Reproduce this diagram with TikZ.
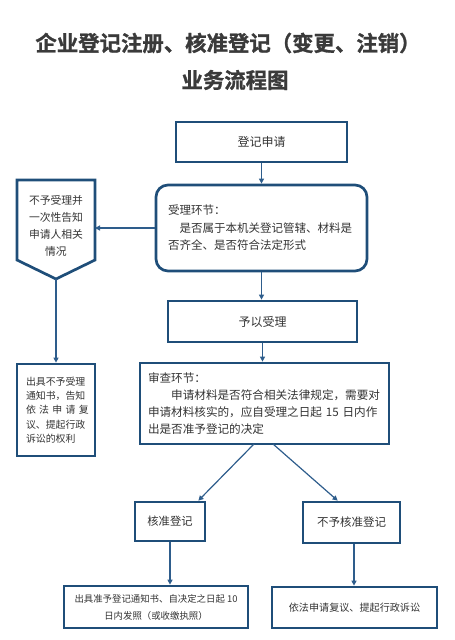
\documentclass[tikz,border=0pt]{standalone}
\usepackage{fontspec}
\setmainfont{Noto Sans CJK SC}[BoldFont={Noto Sans CJK SC Bold}]
\newfontfamily\ttlfont{Noto Sans CJK SC Bold}[FakeBold=1.2]
\usetikzlibrary{arrows.meta}
\definecolor{boxc}{HTML}{1F4E79}
\definecolor{arrc}{HTML}{2E5D8C}
\definecolor{txt}{HTML}{333333}
\definecolor{titlec}{HTML}{3A3A3A}
\newcommand{\fsz}[2]{\fontsize{#1}{#2}\selectfont}
\begin{document}
\begin{tikzpicture}[x=1pt,y=-1pt,
  box/.style={draw=boxc, line width=2.7pt, inner sep=0pt, text=txt, line join=miter},
  arr/.style={draw=arrc, line width=1.2pt, -{Triangle[length=5pt,width=5pt]}},
  ttl/.style={font=\ttlfont\fsz{21.4}{25}, text=titlec, inner sep=0pt}]
\useasboundingbox (0,0) rectangle (455,640);
% title
\node[ttl] (t1) at (228,43) {企业登记注册、核准登记（变更、注销）};
\node[ttl] (t2) at (235,80) {业务流程图};
% boxes
\node[box, minimum width=171pt, minimum height=40pt, font=\fsz{12}{14}] (apply) at (261.5,142) {登记申请};
\node[box, rounded corners=12pt, minimum width=211pt, minimum height=86pt, text width=187pt,
      inner xsep=12pt, align=left, font=\fsz{11.5}{17.5}] (accept) at (261.5,228)
  {受理环节：\\\hspace*{1em}是否属于本机关登记管辖、材料是\\否齐全、是否符合法定形式};
% pentagon
\draw[box] (17,180) -- (95,180) -- (95,260) -- (56,279) -- (17,260) -- cycle;
\coordinate (pentR) at (95,228);
\coordinate (pentB) at (56,279);
\node[text=txt, align=center, inner sep=0pt, font=\fsz{10.8}{17}] (pent) at (56,226)
  {不予受理并\\一次性告知\\申请人相关\\情况};
\node[box, minimum width=78pt, minimum height=92pt, text width=60pt, align=left,
      font=\fsz{9.9}{14.3}] (rej1) at (56,410)
  {出具不予受理\\通知书，告知\\\makebox[59.4pt][s]{依 法 申 请 复}\\议、提起行政\\诉讼的权利};
\node[box, minimum width=189pt, minimum height=41pt, font=\fsz{12}{14}] (ok) at (262.5,321.5) {予以受理};
\node[box, minimum width=249pt, minimum height=81pt, text width=233pt, inner xsep=8pt,
      align=left, font=\fsz{11.6}{17}] (check) at (264.5,403.5)
  {审查环节：\\\hspace*{2em}申请材料是否符合相关法律规定，需要对\\申请材料核实的，应自受理之日起 15 日内作\\出是否准予登记的决定};
\node[box, minimum width=70pt, minimum height=39pt, font=\fsz{11.3}{14}] (hz) at (170,521.5) {核准登记};
\node[box, minimum width=97pt, minimum height=41pt, font=\fsz{11.5}{14}] (bhz) at (351.5,522.5) {不予核准登记};
\node[box, minimum width=184pt, minimum height=42pt, align=center,
      font=\fsz{9.4}{17}] (issue) at (156,607)
  {出具准予登记通知书、自决定之日起 10\\日内发照（或收缴执照）};
\node[box, minimum width=165pt, minimum height=41pt, font=\fsz{10.1}{14}] (appeal) at (354.5,607.5)
  {依法申请复议、提起行政诉讼};
% connectors
\draw[arr] (apply.south) -- (apply.south |- accept.north);
\draw[arr] (accept.west) -- (accept.west -| pentR);
\draw[arr] (pentB) -- (pentB |- rej1.north);
\draw[arr] (accept.south) -- (accept.south |- ok.north);
\draw[arr] (ok.south) -- (ok.south |- check.north);
\coordinate (sl) at (254,444);
\coordinate (sr) at (273,444);
\draw[arr] (sl) -- ([xshift=-8pt]hz.north east);
\draw[arr] (sr) -- ([xshift=36pt]bhz.north west);
\draw[arr] (hz.south) -- (hz.south |- issue.north);
\draw[arr] ([xshift=2.5pt]bhz.south) -- ([xshift=2.5pt]bhz.south |- appeal.north);
\end{tikzpicture}
\end{document}
